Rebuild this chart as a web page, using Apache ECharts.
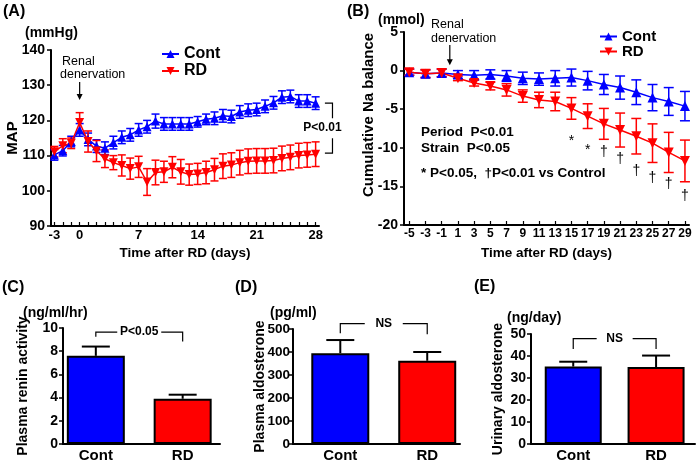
<!DOCTYPE html>
<html>
<head>
<meta charset="utf-8">
<script src="https://cdn.jsdelivr.net/npm/echarts@6/dist/echarts.min.js"></script>
<style>html,body{margin:0;padding:0;background:#fff}#main{width:696px;height:466px}</style>
</head>
<body>
<div id="main"></div>
<script>
var FONT = '"Liberation Sans", Arial, sans-serif';
var BLUE = '#0000ff', RED = '#ff0000';

// (A) MAP
var daysA = [-3,-2,-1,0,1,2,3,4,5,6,7,8,9,10,11,12,13,14,15,16,17,18,19,20,21,22,23,24,25,26,27,28];
var ticksA = [-3,0,7,14,21,28];
var mapCont = [110.2,111.4,114,117.3,114.6,112.7,112.1,113.7,115.2,115.9,117.3,118.2,119.8,119,119,119,119,119.6,120.3,120.6,121.3,121.1,122.4,122.9,123.1,124,125,126.6,126.8,125.5,125.5,124.9];
var mapContErr = [1.5,1.5,1.5,1.8,1.8,1.8,1.8,1.8,1.8,1.8,1.8,1.8,2,1.8,1.8,1.8,1.8,1.5,1.5,1.8,1.8,1.8,1.8,1.8,1.8,1.8,1.8,1.8,1.8,1.8,1.8,1.8];
var mapRD = [111.1,112.8,113.5,119.4,114,111.3,109.1,108,107.2,106.3,106.8,102.5,105.2,105.4,106.7,105.4,104.6,104.8,105.2,106,107,107.3,108,108.4,108.5,108.5,108.6,109.2,109.5,110,110.2,110.4];
var mapRDErr = [1.5,2,1.5,2.8,3,3,2.5,2,3,3,3,3.8,3.5,3,3,3.5,3,3,3.2,3.2,3.5,3.5,3.5,3.5,3.5,3.5,3.5,3.5,3.5,3.5,3.5,3.5];

// (B) cumulative Na balance
var daysB = [-5,-3,-1,1,3,5,7,9,11,13,15,17,19,21,23,25,27,29];
var naCont = [-0.2,-0.4,-0.3,-0.5,-0.6,-0.5,-0.7,-1.0,-1.1,-1.0,-0.9,-1.3,-1.8,-2.2,-2.8,-3.5,-4.0,-4.6];
var naContErr = [0.4,0.5,0.5,0.5,0.6,0.6,0.7,0.8,0.8,1.0,1.1,1.2,1.3,1.5,1.6,1.7,1.8,1.9];
var naRD = [-0.2,-0.4,-0.3,-1.0,-1.6,-2.0,-2.5,-3.3,-3.8,-4.0,-4.9,-5.9,-6.9,-7.7,-8.5,-9.4,-10.6,-11.7];
var naRDErr = [0.4,0.5,0.5,0.3,0.4,0.5,0.8,0.8,1.0,1.2,1.4,1.6,2.0,2.2,2.3,2.5,2.6,2.7];
// significance marks under the RD points: [day, y, mark]
var naMarks = [[15,-9.1,'*'],[17,-10.3,'*'],[19,-10.6,'†'],[21,-11.5,'†'],[23,-13,'†'],[25,-13.9,'†'],[27,-14.7,'†'],[29,-16.2,'†']];

// (C)(D)(E) bars
var groups = ['Cont','RD'];
var renin = [7.6, 3.9];
var reninErr = [0.8, 0.35];
var plasmaAldo = [395, 362];
var plasmaAldoErr = [57, 38];
var urinaryAldo = [35.2, 35];
var urinaryAldoErr = [2.2, 5.2];

function pairs(xs, ys) { return xs.map(function (x, i) { return [x, ys[i]]; }); }
function triples(xs, ys, es) { return xs.map(function (x, i) { return [x, ys[i], es[i]]; }); }

function errorBar(cap, width, upperOnly) {
    return function (params, api) {
        var x = api.value(0), y = api.value(1), e = api.value(2);
        var top = api.coord([x, y + e]);
        var bot = api.coord([x, upperOnly ? y : y - e]);
        var st = { stroke: api.visual('color'), lineWidth: width };
        var ch = [
            { type: 'line', shape: { x1: top[0], y1: top[1], x2: bot[0], y2: bot[1] }, style: st },
            { type: 'line', shape: { x1: top[0] - cap / 2, y1: top[1], x2: top[0] + cap / 2, y2: top[1] }, style: st }
        ];
        if (!upperOnly) ch.push({ type: 'line', shape: { x1: bot[0] - cap / 2, y1: bot[1], x2: bot[0] + cap / 2, y2: bot[1] }, style: st });
        return { type: 'group', children: ch };
    };
}

function markText(params, api) {
    var p = api.coord([api.value(0), api.value(1)]);
    return { type: 'text', x: p[0], y: p[1], style: { text: naMarks[params.dataIndex][2], fill: '#000',
        font: '14px ' + FONT, align: 'center', verticalAlign: 'middle', textAlign: 'center', textVerticalAlign: 'middle' } };
}

// horizontal bracket over two bars, broken around a label
function barBracket(text, gap) {
    return function (params, api) {
        var x1 = api.value(0), x2 = api.value(1), yt = api.value(2), yl = api.value(3), yr = api.value(4);
        var a = api.coord([x1, yl]), b = api.coord([x1, yt]), c = api.coord([x2, yt]), d = api.coord([x2, yr]);
        var mid = (b[0] + c[0]) / 2;
        var st = { stroke: '#000', lineWidth: 1.2, fill: null };
        return { type: 'group', children: [
            { type: 'polyline', shape: { points: [a, b, [mid - gap, b[1]]] }, style: st },
            { type: 'polyline', shape: { points: [[mid + gap, c[1]], c, d] }, style: st },
            { type: 'text', x: mid, y: b[1], style: { text: text, fill: '#000', font: 'bold 12px ' + FONT, align: 'center', verticalAlign: 'middle', textAlign: 'center', textVerticalAlign: 'middle' } }
        ] };
    };
}

// vertical bracket at the right of panel A
function sideBracket(text, gap) {
    return function (params, api) {
        var x1 = api.value(0), x2 = api.value(1), yt = api.value(2), yb = api.value(3);
        var a = api.coord([x1, yt]), b = api.coord([x2, yt]), c = api.coord([x2, yb]), d = api.coord([x1, yb]);
        var mid = (b[1] + c[1]) / 2;
        var st = { stroke: '#000', lineWidth: 1.2, fill: null };
        return { type: 'group', children: [
            { type: 'polyline', shape: { points: [a, b, [b[0], mid - gap]] }, style: st },
            { type: 'polyline', shape: { points: [[c[0], mid + gap], c, d] }, style: st },
            { type: 'text', x: b[0] - 10, y: mid, style: { text: text, fill: '#000', font: 'bold 12px ' + FONT, align: 'center', verticalAlign: 'middle', textAlign: 'center', textVerticalAlign: 'middle' } }
        ] };
    };
}

var axisLine = { onZero: false, lineStyle: { color: '#000', width: 2 } };
function lbl(size, extra) {
    var o = { color: '#000', fontWeight: 'bold', fontFamily: FONT, fontSize: size };
    for (var k in extra) o[k] = extra[k];
    return o;
}
function nameStyle(size) { return { color: '#000', fontWeight: 'bold', fontFamily: FONT, fontSize: size }; }

function barX(idx, min, max) {
    return { type: 'value', gridIndex: idx, min: min, max: max, axisLine: axisLine,
        axisTick: { show: false }, splitLine: { show: false },
        axisLabel: lbl(15, { customValues: [0, 1], margin: 4, formatter: function (v) { return groups[Math.round(v)]; } }) };
}
function barY(idx, max, interval, name, gap, size, margin) {
    return { type: 'value', gridIndex: idx, min: 0, max: max, interval: interval, axisLine: axisLine,
        axisTick: { length: 4, lineStyle: { color: '#000', width: 1.5 } }, splitLine: { show: false },
        axisLabel: lbl(size, { margin: margin }),
        name: name, nameLocation: 'middle', nameGap: gap, nameMoveOverlap: false, nameTextStyle: nameStyle(14) };
}
function barSeries(idx, vals, errs, width) {
    return [{
        type: 'bar', xAxisIndex: idx, yAxisIndex: idx, barWidth: width,
        itemStyle: { borderColor: '#000', borderWidth: 2 },
        data: [{ value: [0, vals[0]], itemStyle: { color: BLUE } }, { value: [1, vals[1]], itemStyle: { color: RED } }]
    }, {
        type: 'custom', xAxisIndex: idx, yAxisIndex: idx, itemStyle: { color: '#000' }, z: 3,
        renderItem: errorBar(28, 2, true), data: triples([0, 1], vals, errs)
    }];
}
function lineSeries(idx, name, xs, ys, es, color, size, cap, down) {
    return [{
        type: 'custom', xAxisIndex: idx, yAxisIndex: idx, itemStyle: { color: color },
        renderItem: errorBar(cap, 1.5, false), data: triples(xs, ys, es)
    }, {
        type: 'line', name: name, xAxisIndex: idx, yAxisIndex: idx, data: pairs(xs, ys),
        symbol: 'triangle', symbolSize: size, symbolRotate: down ? 180 : 0,
        lineStyle: { color: color, width: 1.5 }, itemStyle: { color: color }, z: 3
    }];
}

var option = {
    animation: false,
    backgroundColor: '#fff',
    legend: [
        { data: ['Cont', 'RD'], left: 156, top: 41, orient: 'vertical', itemWidth: 17, itemHeight: 10, itemGap: 1,
          selectedMode: false, textStyle: nameStyle(16) },
        { data: ['Cont', 'RD'], left: 594, top: 24, orient: 'vertical', itemWidth: 17, itemHeight: 10, itemGap: 0,
          selectedMode: false, textStyle: nameStyle(15) }
    ],
    grid: [
        { left: 51, top: 50, width: 268, height: 176 },
        { left: 404, top: 32, width: 285, height: 193 },
        { left: 63, top: 328, width: 157, height: 116 },
        { left: 293, top: 329, width: 167, height: 115 },
        { left: 531, top: 334, width: 164, height: 110 }
    ],
    xAxis: [
        { type: 'value', gridIndex: 0, min: -3.4, max: 28.4, axisLine: axisLine, splitLine: { show: false },
          axisTick: { inside: true, length: 4, customValues: daysA, lineStyle: { color: '#000', width: 1.2 } },
          axisLabel: lbl(13, { customValues: ticksA, margin: 3 }),
          name: 'Time after RD (days)', nameLocation: 'middle', nameGap: 20, nameMoveOverlap: false, nameTextStyle: nameStyle(13.5) },
        { type: 'value', gridIndex: 1, min: -5.65, max: 29.5, axisLine: axisLine, splitLine: { show: false },
          axisTick: { inside: true, length: 4, customValues: daysB, lineStyle: { color: '#000', width: 1.2 } },
          axisLabel: lbl(12, { customValues: daysB, margin: 3 }),
          name: 'Time after RD (days)', nameLocation: 'middle', nameGap: 21, nameMoveOverlap: false, nameTextStyle: nameStyle(13.5) },
        barX(2, -0.378, 1.43),
        barX(3, -0.544, 1.377),
        barX(4, -0.51, 1.47)
    ],
    yAxis: [
        { type: 'value', gridIndex: 0, min: 90, max: 140, interval: 10, axisLine: axisLine, splitLine: { show: false },
          axisTick: { length: 4, lineStyle: { color: '#000', width: 1.5 } }, axisLabel: lbl(14, { margin: 6 }),
          name: 'MAP', nameLocation: 'middle', nameGap: 31, nameMoveOverlap: false, nameTextStyle: nameStyle(15) },
        { type: 'value', gridIndex: 1, min: -20, max: 5, interval: 5, axisLine: axisLine, splitLine: { show: false },
          axisTick: { length: 4, lineStyle: { color: '#000', width: 1.5 } }, axisLabel: lbl(14, { margin: 6 }) },
        barY(2, 10, 2, 'Plasma renin activity', 33, 14, 5),
        barY(3, 500, 100, 'Plasma aldosterone', 26, 13.5, 3),
        barY(4, 50, 10, 'Urinary aldosterone', 26, 14, 5)
    ],
    series: [].concat(
        lineSeries(0, 'Cont', daysA, mapCont, mapContErr, BLUE, 9, 8, false),
        lineSeries(0, 'RD', daysA, mapRD, mapRDErr, RED, 9, 8, true),
        lineSeries(1, 'Cont', daysB, naCont, naContErr, BLUE, 10, 10, false),
        lineSeries(1, 'RD', daysB, naRD, naRDErr, RED, 10, 10, true),
        [{
            type: 'custom', xAxisIndex: 1, yAxisIndex: 1, renderItem: markText,
            data: naMarks.map(function (m) { return [m[0], m[1]]; })
        }, {
            type: 'custom', xAxisIndex: 0, yAxisIndex: 0, renderItem: sideBracket('P<0.01', 10),
            data: [[29.1, 30, 124.9, 110.7]]
        }],
        barSeries(2, renin, reninErr, 58),
        [{ type: 'custom', xAxisIndex: 2, yAxisIndex: 2, renderItem: barBracket('P<0.05', 22), data: [[0, 1, 9.65, 9.25, 8.84]] }],
        barSeries(3, plasmaAldo, plasmaAldoErr, 58),
        [{ type: 'custom', xAxisIndex: 3, yAxisIndex: 3, renderItem: barBracket('NS', 19), data: [[0, 1, 523, 481, 477]] }],
        barSeries(4, urinaryAldo, urinaryAldoErr, 57),
        [{ type: 'custom', xAxisIndex: 4, yAxisIndex: 4, renderItem: barBracket('NS', 18), data: [[0, 1, 47.9, 43.2, 43.2]] }]
    )
};

var chart = echarts.init(document.getElementById('main'));
chart.setOption(option);

function txt(s, x, y, size, weight, rot, align) {
    return { type: 'text', x: x, y: y, rotation: rot || 0,
        style: { text: s, fill: '#000', font: (weight || 'bold') + ' ' + size + 'px ' + FONT,
                 align: align || 'left', verticalAlign: 'middle', textAlign: align || 'left', textVerticalAlign: 'middle' } };
}
function arrow(p1, p2) {
    return [
        { type: 'line', shape: { x1: p1[0], y1: p1[1], x2: p2[0], y2: p2[1] - 3 }, style: { stroke: '#000', lineWidth: 1.2 } },
        { type: 'polygon', shape: { points: [[p2[0] - 3, p2[1] - 6], [p2[0] + 3, p2[1] - 6], [p2[0], p2[1]]] }, style: { fill: '#000' } }
    ];
}

var aTop = chart.convertToPixel({ xAxisIndex: 0, yAxisIndex: 0 }, [0, 130.9]);
var aBot = chart.convertToPixel({ xAxisIndex: 0, yAxisIndex: 0 }, [0, 125.8]);
var bTop = chart.convertToPixel({ xAxisIndex: 1, yAxisIndex: 1 }, [0, 3.3]);
var bBot = chart.convertToPixel({ xAxisIndex: 1, yAxisIndex: 1 }, [0, 0.7]);

chart.setOption({
    graphic: { elements: [
        txt('(A)', 3, 12, 16), txt('(B)', 347, 12, 16),
        txt('(C)', 2, 288, 16), txt('(D)', 235, 288, 16), txt('(E)', 474, 287, 16),
        txt('(mmHg)', 25, 33, 14), txt('(mmol)', 378, 20, 14),
        txt('(ng/ml/hr)', 23, 313, 14), txt('(pg/ml)', 270, 313, 14), txt('(ng/day)', 507, 318, 14),
        txt('Renal', 62, 62, 12.5, 'normal'), txt('denervation', 60, 75, 12.5, 'normal'),
        txt('Renal', 431, 25, 12.5, 'normal'), txt('denervation', 431, 39, 12.5, 'normal'),
        txt('Period  P<0.01', 421, 132, 13.5), txt('Strain  P<0.05', 421, 148, 13.5),
        txt('* P<0.05,  \u2020P<0.01 vs Control', 421, 173, 13.5),
        txt('Cumulative Na balance', 369, 115, 15, 'bold', Math.PI / 2, 'center')
    ].concat(arrow(aTop, aBot), arrow(bTop, bBot)) }
});
</script>
</body>
</html>
